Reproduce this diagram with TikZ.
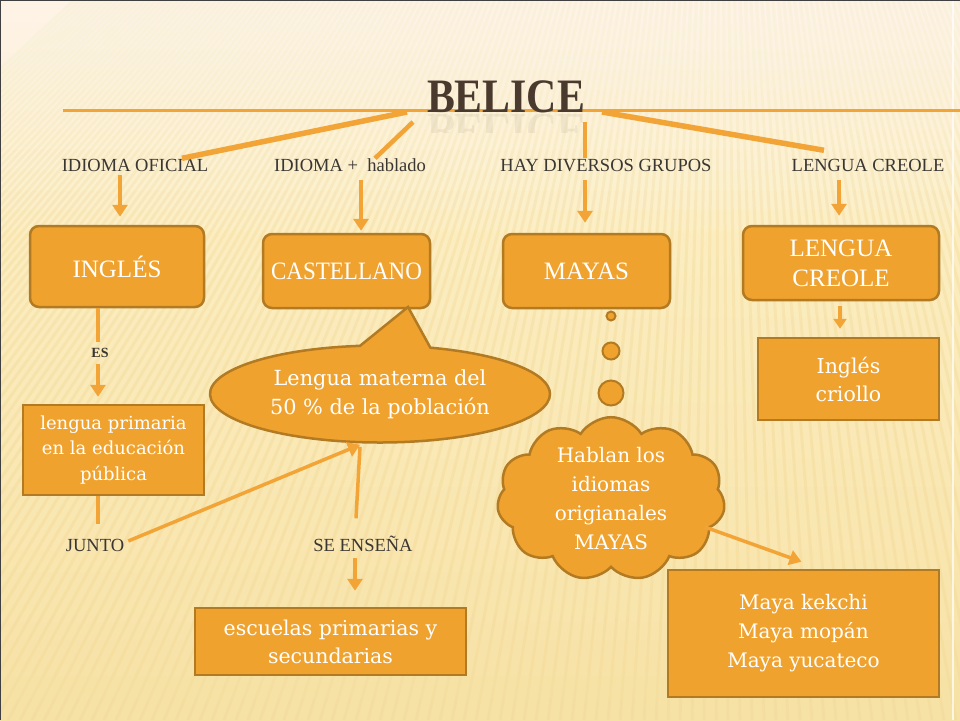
\documentclass[tikz,border=0pt]{standalone}
\usepackage{fontspec}
\setmainfont{Liberation Serif}
\newfontfamily\dvs{DejaVu Serif}
\usetikzlibrary{shapes.geometric,shapes.symbols,shapes.callouts,arrows.meta,calc}

\definecolor{boxfill}{HTML}{F0A22E}
\definecolor{boxline}{HTML}{B27A22}
\definecolor{lineor}{HTML}{F2A436}
\definecolor{labtext}{HTML}{3A3632}
\definecolor{titlec}{HTML}{4A3A2E}
\definecolor{bgtop}{HTML}{FEF3CE}
\definecolor{bgbot}{HTML}{F7E2A6}
\definecolor{stripe}{HTML}{F0D38C}

\tikzset{
  rbox/.style={draw=boxline, fill=boxfill, line width=2.5pt, rounded corners=9pt,
    text=white, align=center, inner sep=0pt, font=\fontsize{25}{30}\selectfont},
  sbox/.style={draw=boxline, fill=boxfill, line width=2.5pt,
    text=white, align=center, inner sep=0pt},
  lab/.style={text=labtext, inner sep=0pt, text height=12pt, text depth=3pt,
    font=\fontsize{18.5}{20}\selectfont},
  spoke/.style={draw=lineor, line width=5.5pt},
  conn/.style={draw=lineor, line width=3.5pt},
  arr/.style={conn, -{Triangle[length=12pt,width=15pt]}},
  bubble/.style={circle, draw=boxline, fill=boxfill, line width=2pt, inner sep=0pt},
}

\begin{document}
\begin{tikzpicture}[x=1pt,y=-1pt]
\useasboundingbox (0,0) rectangle (960,720);
% background
\fill[top color=bgtop, bottom color=bgbot] (0,0) rectangle (960,720);
\begin{scope}
  \clip (0,0) rectangle (960,720);
  \foreach \i in {-700,-688,...,1500}
    \draw[stripe, opacity=0.3, line width=3pt] (720,-600) -- (\i,720);
\end{scope}
\foreach \k in {30,50,...,230}
  \fill[white, opacity=0.07] (0,0) rectangle (960,\k);
\foreach \k in {640,660,...,720}
  \fill[bgbot, opacity=0.15] (0,\k) rectangle (960,720);
\draw[white, opacity=0.7, line width=1.5pt] (953,0) -- (953,720);
\draw[black!75, line width=2pt] (0,720) -- (0,0) -- (960,0);

% title line and title
\coordinate (hl) at (63,110);
\coordinate (hr) at (960,110);
\draw[lineor, line width=3pt] (hl) -- (hr);
\begin{scope}
  \clip (415,114) rectangle (595,132);
  \node[text=titlec, opacity=0.07, anchor=north, inner sep=0pt,
    font=\bfseries\fontsize{48}{48}\selectfont] at (506,114) {\scalebox{0.87}[-1]{BELICE}};
\end{scope}
\node[text=titlec, anchor=base, inner sep=0pt, font=\bfseries\fontsize{48}{48}\selectfont]
  (belice) at (506,112) {\scalebox{0.87}[1]{BELICE}};

% labels
\node[lab] (lab1) at (135,167) {IDIOMA OFICIAL};
\node[lab] (lab2) at (350,167) {IDIOMA + \ hablado};
\node[lab] (lab3) at (606,167) {HAY DIVERSOS GRUPOS};
\node[lab] (lab4) at (868,167) {LENGUA CREOLE};

% spokes from title
\coordinate (t1) at (407,112);
\coordinate (t2) at (413,122);
\coordinate (t3) at (585,122);
\coordinate (t4) at (602,112);
\draw[spoke] (t1) -- ($(lab1.north)+(47,-1)$);
\draw[spoke, line width=4.5pt] (t2) -- ($(lab2.north)+(25,-1)$);
\draw[spoke, line width=4pt] (t3) -- ($(lab3.north)+(-21,-1)$);
\draw[spoke] (t4) -- ($(lab4.north)+(-44,-9)$);

% top boxes
\node[rbox, minimum width=174pt, minimum height=81pt] (ingles) at (117,266.5) {INGLÉS};
\node[rbox, minimum width=167pt, minimum height=74pt] (castellano) at (346.5,271) {\scalebox{0.92}[1]{CASTELLANO}};
\node[rbox, minimum width=167pt, minimum height=74pt] (mayas) at (586.5,271) {MAYAS};
\node[rbox, minimum width=196pt, minimum height=74pt] (creole) at (841,263) {LENGUA\\CREOLE};

\draw[arr] ($(lab1.south)+(-15,0)$) -- ($(ingles.north)+(3,-8)$);
\draw[arr] ($(lab2.south)+(11,5)$) -- ($(castellano.north)+(14.5,-2)$);
\draw[arr] ($(lab3.south)+(-21,5)$) -- ($(mayas.north)+(-1.5,-10)$);
\draw[arr] ($(lab4.south)+(-29,5)$) -- ($(creole.north)+(-2,-9)$);

% INGLES branch
\node[text=labtext, inner sep=1pt, font=\bfseries\fontsize{14}{14}\selectfont] (es) at (100,353) {ES};
\node[sbox, minimum width=181pt, minimum height=90pt, font=\dvs\fontsize{18}{25.5}\selectfont]
  (primaria) at (113.5,450) {lengua primaria\\en la educación\\pública};
\draw[conn] ($(ingles.south)+(-19,0)$) -- ($(es.north)+(-2,-5)$);
\draw[arr] ($(es.south)+(-2,5)$) -- ($(primaria.north)+(-15.5,-7)$);

\node[lab] (junto) at (95,547) {JUNTO};
\draw[conn] ($(primaria.south)+(-15.5,0)$) -- ($(junto.north)+(3,-15)$);

% CASTELLANO callout
\node[ellipse callout, draw=boxline, fill=boxfill, line width=2.5pt, text=white,
  align=center, inner sep=0pt, minimum width=340pt, minimum height=97pt,
  callout absolute pointer={(408,307)}, callout pointer arc=24,
  font=\dvs\fontsize{20.8}{29}\selectfont]
  (materna) at (380,394) {Lengua materna del\\50 \% de la población};

\draw[arr] ($(junto.east)+(4,-6)$) -- ($(materna.south)+(-20,1)$);

\node[lab] (seensena) at (363,547) {SE ENSEÑA};
\draw[conn] ($(materna.south)+(-20,3)$) -- ($(seensena.north)+(-7,-21)$);
\node[sbox, minimum width=271pt, minimum height=67pt, font=\dvs\fontsize{20.5}{28}\selectfont]
  (escuelas) at (330.5,641.5) {escuelas primarias y\\secundarias};
\draw[arr] ($(seensena.south)+(-8,3)$) -- ($(escuelas.north)+(24.5,-16)$);

% MAYAS branch
\node[bubble, minimum size=9pt] (b1) at (611,316) {};
\node[bubble, minimum size=17pt] (b2) at (611,351) {};
\node[bubble, minimum size=25pt] (b3) at (611,393) {};
\node[cloud, cloud puffs=11, cloud puff arc=115, cloud ignores aspect,
  draw=boxline, fill=boxfill, line width=2.5pt, text=white, align=center,
  inner sep=0pt, minimum width=228pt, minimum height=128pt,
  font=\dvs\fontsize{20}{29}\selectfont]
  (cloud) at (611,499) {Hablan los\\idiomas\\origianales\\MAYAS};
\node[sbox, minimum width=271pt, minimum height=127pt, font=\dvs\fontsize{20}{29}\selectfont]
  (mayalist) at (803.5,633.5) {Maya kekchi\\Maya mopán\\Maya yucateco};
\draw[arr] ($(cloud.east)+(-20,28)$) -- ($(mayalist.north)+(-2,-7)$);

% CREOLE branch
\node[sbox, minimum width=181pt, minimum height=82pt, font=\dvs\fontsize{20.5}{28}\selectfont]
  (criollo) at (848.5,379) {Inglés\\criollo};
\draw[conn, -{Triangle[length=10pt,width=13pt]}] ($(creole.south)+(-1,5)$) -- ($(criollo.north)+(-8.5,-8)$);
\end{tikzpicture}
\end{document}
